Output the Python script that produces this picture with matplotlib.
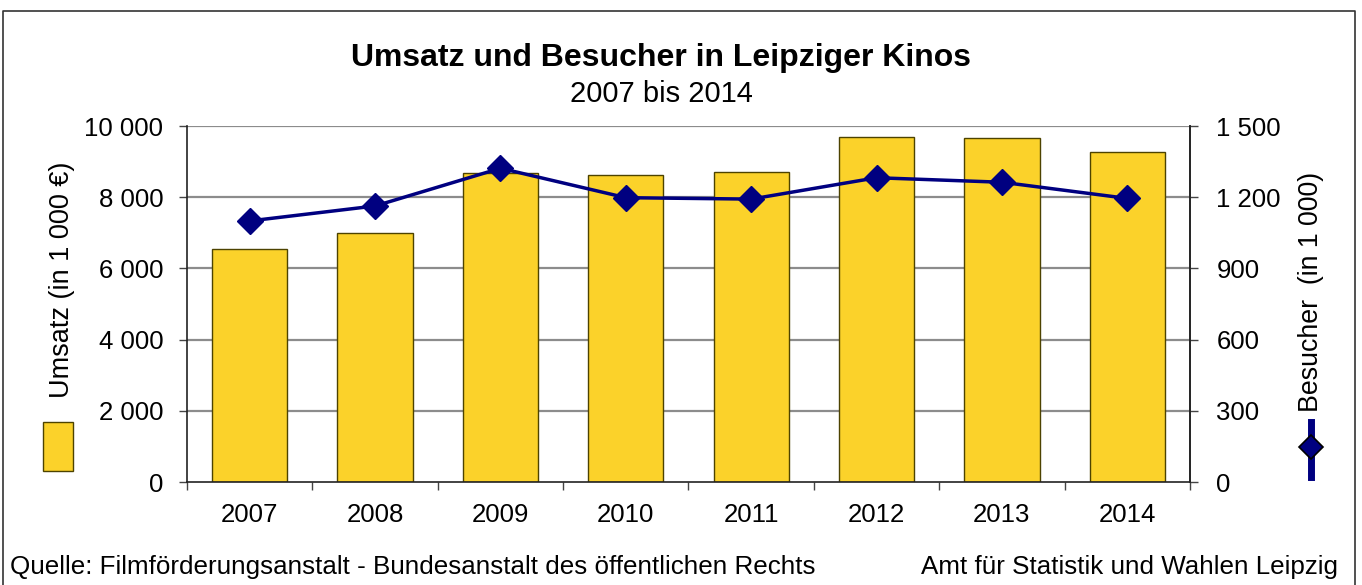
import matplotlib
matplotlib.use("Agg")
import matplotlib.pyplot as plt
import numpy as np
from matplotlib.lines import Line2D
from matplotlib.patches import Rectangle

plt.rcParams['font.family'] = ['Liberation Sans', 'DejaVu Sans']

years = ["2007", "2008", "2009", "2010", "2011", "2012", "2013", "2014"]
umsatz = [6540, 6990, 8680, 8615, 8695, 9700, 9655, 9260]
besucher = [1100, 1163, 1322, 1198, 1192, 1282, 1263, 1195]
left_ticks = [0, 2000, 4000, 6000, 8000, 10000]
left_labels = ["0", "2 000", "4 000", "6 000", "8 000", "10 000"]
right_ticks = [0, 300, 600, 900, 1200, 1500]
right_labels = ["0", "300", "600", "900", "1 200", "1 500"]

bar_color = "#FBD22A"
bar_edge = "#4d4300"
line_color = "#000080"

W, H = 1362, 585
fig = plt.figure(figsize=(W / 100, H / 100), dpi=100)

ax = fig.add_axes([187 / W, 1 - 482 / H, (1190 - 187) / W, (482 - 126) / H])
x = np.arange(len(years))
ax.bar(x, umsatz, width=0.6, color=bar_color, edgecolor=bar_edge, linewidth=1.0, zorder=2)
ax.set_xlim(-0.5, len(years) - 0.5)
ax.set_ylim(0, 10000)
ax.set_yticks(left_ticks)
ax.set_yticklabels(left_labels, fontsize=18.5)
ax.set_xticks(x)
ax.set_xticklabels(years, fontsize=18.5)
ax.tick_params(axis='x', length=0, pad=15)
ax.set_xticks(np.arange(-0.5, len(years)), minor=True)
ax.tick_params(axis='x', which='minor', length=6, width=1, color='#444444')
ax.tick_params(axis='y', length=6, width=1, pad=11, color='#444444')
for t in left_ticks[1:]:
    ax.axhline(t, color='#8c8c8c', linewidth=1.6, zorder=1)
for s in ['left', 'bottom']:
    ax.spines[s].set_color('#222222')
    ax.spines[s].set_linewidth(1.2)
ax.spines['right'].set_color('#222222')
ax.spines['right'].set_linewidth(1.2)
ax.spines['top'].set_visible(False)

ax2 = ax.twinx()
ax2.plot(x, besucher, color=line_color, linewidth=2.5, marker='D', markersize=13,
         markerfacecolor=line_color, markeredgecolor=line_color, zorder=3)
ax2.set_ylim(0, 1500)
ax2.set_yticks(right_ticks)
ax2.set_yticklabels(right_labels, fontsize=18.5)
ax2.tick_params(axis='y', length=6, width=1, pad=13, color='#444444')
for s in ['left', 'bottom', 'top']:
    ax2.spines[s].set_visible(False)
ax2.spines['right'].set_color('#222222')
ax2.spines['right'].set_linewidth(1.2)

fig.text(661 / W, 1 - 58 / H, "Umsatz und Besucher in Leipziger Kinos", ha='center', va='center',
         fontsize=23, fontweight='bold')
fig.text(661 / W, 1 - 94 / H, "2007 bis 2014", ha='center', va='center', fontsize=21)

fig.text(62 / W, 1 - 280 / H, "Umsatz (in 1 000 €)", rotation=90, ha='center', va='center', fontsize=19.5)
fig.text(1311 / W, 1 - 292 / H, "Besucher  (in 1 000)", rotation=90, ha='center', va='center', fontsize=19.3)

# legend keys
fig.patches.append(Rectangle((43 / W, 1 - 471 / H), 30 / W, 49 / H, transform=fig.transFigure,
                             facecolor=bar_color, edgecolor=bar_edge, linewidth=1.0))
fig.lines.append(Line2D([1311 / W, 1311 / W], [1 - 422 / H, 1 - 477 / H], transform=fig.transFigure,
                        color=line_color, linewidth=5))
fig.lines.append(Line2D([1311 / W], [1 - 447 / H], transform=fig.transFigure, marker='D',
                        markersize=12, color=line_color, markeredgecolor='black', markeredgewidth=1.2))

fig.text(10 / W, 1 - 567 / H, "Quelle: Filmförderungsanstalt - Bundesanstalt des öffentlichen Rechts",
         ha='left', va='center', fontsize=18.7)
fig.text(1338 / W, 1 - 567 / H, "Amt für Statistik und Wahlen Leipzig", ha='right', va='center', fontsize=18.7)

# outer frame
fig.lines.append(Line2D([3 / W, 3 / W, 1355 / W, 1355 / W], [0, 1 - 11 / H, 1 - 11 / H, 0],
                        transform=fig.transFigure, color='#333333', linewidth=1.2))

fig.savefig("out.png", dpi=100)
